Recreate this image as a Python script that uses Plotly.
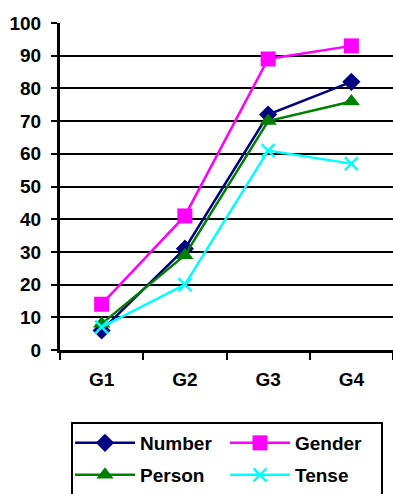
import plotly.graph_objects as go

# Agreement-feature accuracy by grade level
grades = ["G1", "G2", "G3", "G4"]
number = [6, 31, 72, 82]
gender = [14, 41, 89, 93]
person = [8, 29, 70, 76]
tense = [7, 20, 61, 57]
y_ticks = [0, 10, 20, 30, 40, 50, 60, 70, 80, 90, 100]

bold = dict(family="Liberation Sans", size=19, color="black", weight="bold")

series = [
    ("Number", number, "#000080", dict(symbol="diamond", size=14), "legend"),
    ("Gender", gender, "#FF00FF", dict(symbol="square", size=15), "legend"),
    ("Person", person, "#008000", dict(symbol="triangle-up", size=15), "legend2"),
    ("Tense", tense, "#00FFFF",
     dict(symbol="x-thin-open", size=13, line=dict(width=2.5, color="#00FFFF")), "legend2"),
]

fig = go.Figure()
for name, vals, color, marker, leg in series:
    m = dict(color=color, **marker)
    if "line" not in m:
        m["line"] = dict(width=0)
    fig.add_trace(go.Scatter(
        x=grades, y=vals, name=name, mode="lines+markers",
        line=dict(color=color, width=2.5), marker=m, legend=leg,
    ))

legend_common = dict(
    orientation="h", xref="container", yref="container",
    x=70 / 393, xanchor="left", yanchor="middle",
    bgcolor="rgba(0,0,0,0)", borderwidth=0,
    entrywidth=80, entrywidthmode="pixels", itemwidth=60,
    font=bold, traceorder="normal",
)

# Frame around the two legend rows
fig.add_shape(
    type="rect", xref="paper", yref="paper",
    x0=(72 - 60) / 333, x1=(382 - 60) / 333,
    y0=(350 - 423) / 327, y1=(350 - 520) / 327,
    line=dict(color="black", width=2), fillcolor="rgba(0,0,0,0)",
)

fig.update_layout(
    width=393, height=494,
    margin=dict(l=60, r=0, t=23, b=144, autoexpand=False),
    plot_bgcolor="white", paper_bgcolor="white",
    font=bold,
    showlegend=True,
    legend=dict(legend_common, y=1 - 443 / 494),
    legend2=dict(legend_common, y=1 - 475 / 494),
    xaxis=dict(
        type="category", showgrid=False, showline=True, linecolor="black", linewidth=3,
        ticks="outside", tickson="boundaries", ticklen=7, tickwidth=2, tickcolor="black",
        range=[-0.5, 3.5], zeroline=False, tickfont=bold, ticklabelstandoff=10,
    ),
    yaxis=dict(
        range=[0, 100], tickvals=y_ticks,
        showgrid=True, gridcolor="black", gridwidth=2,
        showline=True, linecolor="black", linewidth=3, ticks="outside", ticklen=6,
        tickwidth=2, tickcolor="black", zeroline=False, ticklabelstandoff=6, tickfont=bold,
    ),
)

fig.write_html("out.html")
